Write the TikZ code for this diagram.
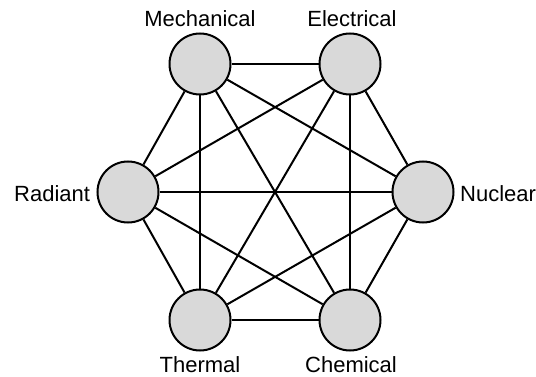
\documentclass[tikz,border=0pt]{standalone}
\usepackage{fontspec}
\setmainfont{Liberation Sans}
\begin{document}
\begin{tikzpicture}[x=1pt,y=-1pt,
  energy/.style={circle,draw=black,fill={rgb,255:red,217;green,217;blue,217},line width=2pt,minimum size=61pt,inner sep=0pt},
  link/.style={draw=black,line width=2pt},
  lbl/.style={inner sep=0pt,font=\fontsize{22}{26}\selectfont}]
\useasboundingbox (0,0) rectangle (536,377);
\node[energy] (mech) at (200,64) {};
\node[energy] (elec) at (350,64) {};
\node[energy] (rad) at (128,192) {};
\node[energy] (nuc) at (423,192) {};
\node[energy] (therm) at (200,320) {};
\node[energy] (chem) at (350,320) {};
\foreach \a/\b in {mech/elec,mech/rad,mech/nuc,mech/therm,mech/chem,
                   elec/rad,elec/nuc,elec/therm,elec/chem,
                   rad/nuc,rad/therm,rad/chem,
                   nuc/therm,nuc/chem,
                   therm/chem}
  \draw[link] (\a) -- (\b);
\node[lbl,anchor=base] (lmech) at (200,27) {Mechanical};
\node[lbl,anchor=base] (lelec) at (352,27) {Electrical};
\node[lbl,anchor=base west] (lrad) at (14,201) {Radiant};
\node[lbl,anchor=base west] (lnuc) at (460,201) {Nuclear};
\node[lbl,anchor=base] (ltherm) at (200,372) {Thermal};
\node[lbl,anchor=base] (lchem) at (351,372) {Chemical};
\end{tikzpicture}
\end{document}
